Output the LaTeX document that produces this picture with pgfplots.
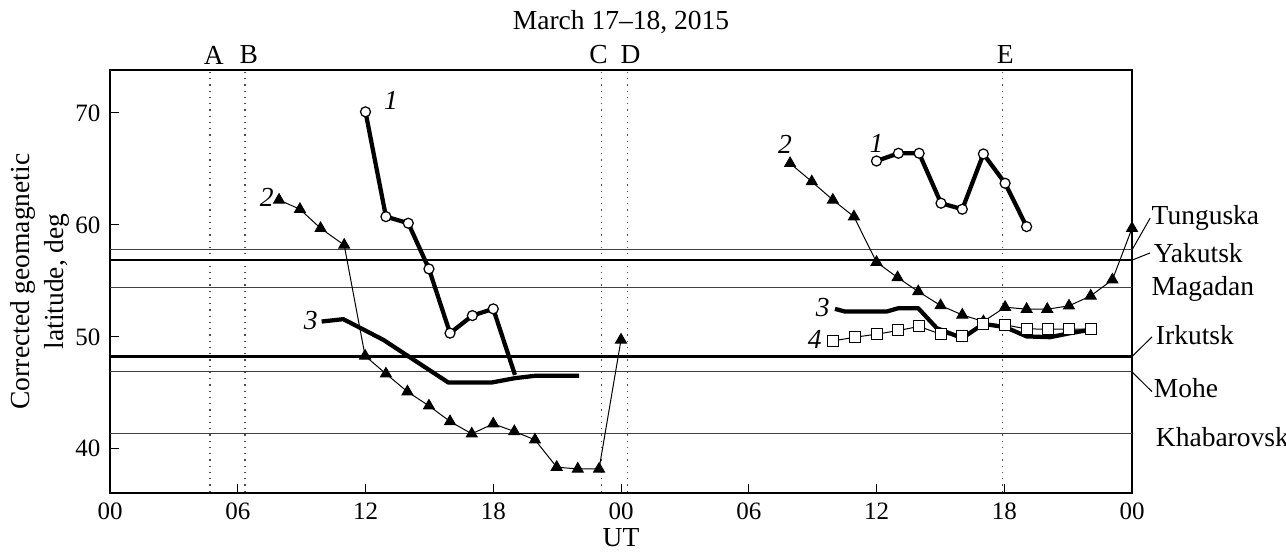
\documentclass[border=0pt]{standalone}
\usepackage{fontspec}
\setmainfont{Liberation Serif}
\usepackage{pgfplots}
\pgfplotsset{compat=1.18}

% station latitudes
\def\latTung{57.77}
\def\latYak{56.85}
\def\latMag{54.44}
\def\latIrk{48.24}
\def\latMohe{46.87}
\def\latKhab{41.40}

\begin{document}
\fontsize{11}{13.6}\selectfont
\begin{tikzpicture}
\begin{axis}[
    name=ax,
    scale only axis,
    width=408.8pt, height=169.2pt,
    xmin=0, xmax=48, ymin=36.05, ymax=73.84,
    xtick={0,6,...,48},
    xticklabels={00,06,12,18,00,06,12,18,00},
    ytick={40,50,60,70},
    xtick pos=left, ytick pos=left,
    tick align=inside,
    major tick length=3.6pt,
    tick style={black, line width=0.4pt},
    axis line style={line width=0.6pt},
    ticklabel style={font=\fontsize{10}{12}\selectfont},
    /pgf/number format/assume math mode=true,
    xlabel={UT},
    xlabel style={at={(axis description cs:0.5,-0.106)}, anchor=center},
    ylabel={Corrected geomagnetic\\latitude, deg},
    ylabel style={at={(axis description cs:-0.0685,0.5)}, anchor=center, align=center},
    clip mode=individual,
]
% event markers A--E
\pgfplotsinvokeforeach{4.70,6.34,23.09,24.30,41.93}{
  \addplot[black!70, dotted, line width=0.5pt, forget plot] coordinates {(#1,30) (#1,80)};
}
% station latitudes
\addplot[black!75, line width=0.45pt] coordinates {(0,\latTung) (48,\latTung)};
\addplot[black, line width=0.9pt] coordinates {(0,\latYak) (48,\latYak)};
\addplot[black!75, line width=0.45pt] coordinates {(0,\latMag) (48,\latMag)};
\addplot[black, line width=0.9pt] coordinates {(0,\latIrk) (48,\latIrk)};
\addplot[black!75, line width=0.45pt] coordinates {(0,\latMohe) (48,\latMohe)};
\addplot[black!75, line width=0.45pt] coordinates {(0,\latKhab) (48,\latKhab)};

% curve 2: triangles, thin
\addplot[black, line width=0.4pt, mark=triangle*, mark size=2.5pt, mark options={solid}]
  coordinates {(7.94,62.23)(8.92,61.40)(9.89,59.70)(11.00,58.20)(11.98,48.30)(12.96,46.70)
  (13.97,45.10)(14.98,43.84)(15.97,42.44)(16.99,41.34)(18.00,42.23)(18.99,41.55)
  (19.96,40.80)(20.98,38.36)(21.97,38.20)(22.97,38.20)(24.00,49.73)};
\addplot[black, line width=0.4pt, mark=triangle*, mark size=2.5pt]
  coordinates {(31.94,65.50)(32.96,63.87)(33.95,62.23)(34.94,60.74)(36.00,56.67)(36.99,55.30)
  (37.96,54.05)(39.01,52.80)(40.03,51.96)(41.02,51.37)(42.04,52.65)(43.05,52.47)
  (44.02,52.47)(45.04,52.77)(46.06,53.66)(47.08,55.10)(48.00,59.70)};

% curve 3: thick line
\addplot[black, line width=1.7pt, line join=round]
  coordinates {(9.94,51.37)(10.96,51.58)(12.84,49.73)(15.89,45.92)(17.92,45.92)
  (19.02,46.31)(19.96,46.52)(22.03,46.52)};
\addplot[black, line width=1.7pt, line join=round]
  coordinates {(34.05,52.50)(34.52,52.26)(36.47,52.26)(37.03,52.56)(37.96,52.56)
  (38.83,50.78)(40.03,49.88)(41.02,51.16)(42.04,50.87)(43.05,50.04)(44.15,49.97)
  (45.10,50.33)(46.03,50.63)};

% curve 4: open squares, thin
\addplot[black, line width=0.4pt, mark=square*, mark size=2.2pt, mark options={fill=white}]
  coordinates {(33.97,49.64)(34.99,49.97)(36.01,50.24)(37.03,50.57)(38.00,50.93)
  (39.01,50.24)(40.03,50.09)(41.02,51.16)(42.04,51.07)(43.05,50.71)(44.04,50.69)
  (45.04,50.69)(46.06,50.69)};

% curve 1: open circles, thick
\addplot[black, line width=1.7pt, mark=*, mark size=2.0pt, mark options={fill=white, line width=0.5pt},
  mark indices={1,...,7}]
  coordinates {(12.00,70.10)(12.96,60.74)(14.01,60.15)(14.98,56.07)(15.97,50.33)
  (17.02,51.90)(18.00,52.50)(19.02,46.60)};
\addplot[black, line width=1.7pt, mark=*, mark size=2.0pt, mark options={fill=white, line width=0.5pt}]
  coordinates {(36.00,65.71)(37.03,66.40)(38.00,66.40)(39.03,61.94)(40.03,61.40)
  (41.02,66.34)(42.04,63.72)(43.05,59.85)};

% curve numbers
\node[font=\itshape] at (axis cs:13.2,71.16) {1};
\node[font=\itshape] at (axis cs:7.36,62.5) {2};
\node[font=\itshape] at (axis cs:9.43,51.46) {3};
\node[font=\itshape] at (axis cs:31.7,67.2) {2};
\node[font=\itshape] at (axis cs:36.0,67.3) {1};
\node[font=\itshape] at (axis cs:33.47,52.65) {3};
\node[font=\itshape] at (axis cs:33.1,49.73) {4};

% event letters and title
\node at (axis cs:4.87,75.18) {A};
\node at (axis cs:6.52,75.18) {B};
\node at (axis cs:22.95,75.18) {C};
\node at (axis cs:24.45,75.18) {D};
\node at (axis cs:42.05,75.18) {E};
\node at (axis cs:24,78.13) {March 17--18, 2015};

% station names
\draw[line width=0.4pt] (axis cs:48,\latTung) -- (axis cs:48.85,60.6);
\draw[line width=0.4pt] (axis cs:48,\latYak) -- (axis cs:48.85,57.5);
\draw[line width=0.4pt] (axis cs:48,\latIrk) -- (axis cs:48.94,50.0);
\draw[line width=0.4pt] (axis cs:48,\latMohe) -- (axis cs:48.94,45.1);
\node[anchor=west, inner sep=0pt] at (axis cs:48.9,60.63) {Tunguska};
\node[anchor=west, inner sep=0pt] at (axis cs:49.0,57.50) {Yakutsk};
\node[anchor=west, inner sep=0pt] at (axis cs:48.9,54.30) {Magadan};
\node[anchor=west, inner sep=0pt] at (axis cs:49.1,50.18) {Irkutsk};
\node[anchor=west, inner sep=0pt] at (axis cs:49.0,45.45) {Mohe};
\node[anchor=west, inner sep=0pt] at (axis cs:49.1,41.07) {Khabarovsk};

\coordinate (bl) at (rel axis cs:0,0);
\coordinate (tr) at (rel axis cs:1,1);
\end{axis}
\pgfresetboundingbox
\path ([shift={(-44pt,-24.8pt)}]bl) rectangle ([shift={(61.6pt,28pt)}]tr);
\end{tikzpicture}
\end{document}
